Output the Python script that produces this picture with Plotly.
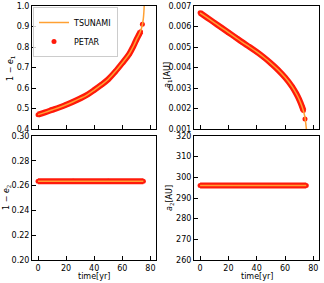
import plotly.graph_objects as go

# ---- data ----
tsunami_t = [0, 5, 10, 15, 20, 25, 30, 35, 40, 45, 50, 55, 60, 65, 68, 70, 72, 73, 74, 75, 75.6]
tsunami_e1 = [0.470, 0.481, 0.493, 0.505, 0.518, 0.533, 0.549, 0.567, 0.590, 0.615, 0.643, 0.680,
              0.722, 0.767, 0.805, 0.835, 0.862, 0.878, 0.900, 0.940, 1.000]
tsunami_a1_t = [0, 5, 10, 15, 20, 25, 30, 35, 40, 45, 50, 55, 60, 65, 68, 70, 72, 73, 74, 74.6, 75.1]
tsunami_a1 = [0.00667, 0.00643, 0.00619, 0.00595, 0.00571, 0.00547, 0.00523, 0.00500, 0.00476,
              0.00450, 0.00421, 0.00389, 0.00352, 0.00307, 0.00272, 0.00244, 0.00210, 0.00188,
              0.00160, 0.00130, 0.00100]

petar_t = [0, 5, 10, 15, 20, 25, 30, 35, 40, 45, 50, 55, 60, 65, 68, 70, 72, 73, 74.3]
petar_e1 = [0.470, 0.481, 0.493, 0.505, 0.518, 0.533, 0.549, 0.567, 0.590, 0.615, 0.643, 0.680,
            0.722, 0.767, 0.805, 0.835, 0.862, 0.875, 0.911]
petar_a1_t = [0, 5, 10, 15, 20, 25, 30, 35, 40, 45, 50, 55, 60, 65, 68, 70, 72, 73, 74.1]
petar_a1 = [0.00667, 0.00643, 0.00619, 0.00595, 0.00571, 0.00547, 0.00523, 0.00500, 0.00476,
            0.00450, 0.00421, 0.00389, 0.00352, 0.00307, 0.00272, 0.00244, 0.00210, 0.00190,
            0.00149]

outer_t = [0, 25, 50, 75]
outer_e2 = [0.2635, 0.2635, 0.2635, 0.2635]
outer_a2 = [296.0, 296.0, 296.0, 296.0]

xticks = [0, 20, 40, 60, 80]

RED = "#ff1a0a"
ORANGE = "#ffa033"
FONT = "DejaVu Sans"

fig = go.Figure()


def add_panel(xa, ya, tp, yp, tt, yt, first=False, isolated_last=False):
    n = len(tp) - 1 if isolated_last else len(tp)
    # PETAR dense band
    fig.add_trace(go.Scatter(x=tp[:n], y=yp[:n], mode="lines",
                             line=dict(color=RED, width=6, shape="spline"),
                             showlegend=False, hoverinfo="skip", xaxis=xa, yaxis=ya))
    fig.add_trace(go.Scatter(x=tp, y=yp, mode="markers", marker=dict(color=RED, size=5),
                             name="PETAR", showlegend=first, legendrank=2, xaxis=xa, yaxis=ya))
    fig.add_trace(go.Scatter(x=tt, y=yt, mode="lines",
                             line=dict(color=ORANGE, width=1.5, shape="spline"),
                             name="TSUNAMI", showlegend=first, legendrank=1, xaxis=xa, yaxis=ya))


add_panel("x", "y", petar_t, petar_e1, tsunami_t, tsunami_e1, first=True, isolated_last=True)
add_panel("x2", "y2", petar_a1_t, petar_a1, tsunami_a1_t, tsunami_a1, isolated_last=True)
add_panel("x3", "y3", outer_t, outer_e2, outer_t, outer_e2)
add_panel("x4", "y4", outer_t, outer_a2, outer_t, outer_a2)

W, H = 324, 283


def px(x):
    return x / W


def py(y):
    return (H - y) / H


xd1 = [px(32), px(156)]
xd2 = [px(194), px(319)]
yd_top = [py(129), py(6)]
yd_bot = [py(260), py(136)]

axcommon = dict(showline=True, linecolor="black", linewidth=1, mirror=True, ticks="inside",
                ticklen=4, tickcolor="black", showgrid=False, zeroline=False, automargin=False,
                tickfont=dict(family=FONT, size=8, color="black"))
xcommon = dict(axcommon, range=[-4.3, 84], tickvals=xticks)
tfont = dict(family=FONT, size=8, color="black")


def label(text, x, y, angle=0):
    return dict(text=text, x=px(x), y=py(y), xref="paper", yref="paper",
                xanchor="center", yanchor="middle", textangle=angle,
                showarrow=False, font=tfont)


fig.update_layout(
    width=W, height=H, margin=dict(l=0, r=0, t=0, b=0, autoexpand=False),
    paper_bgcolor="white", plot_bgcolor="white",
    font=dict(family=FONT, size=8, color="black"),
    xaxis=dict(xcommon, domain=xd1, anchor="y", showticklabels=False),
    yaxis=dict(axcommon, domain=yd_top, anchor="x", range=[0.4, 1.0],
               tickvals=[0.4, 0.5, 0.6, 0.7, 0.8, 0.9, 1.0], tickformat=".1f"),
    xaxis2=dict(xcommon, domain=xd2, anchor="y2", showticklabels=False),
    yaxis2=dict(axcommon, domain=yd_top, anchor="x2", range=[0.001, 0.007],
                tickvals=[0.001, 0.002, 0.003, 0.004, 0.005, 0.006, 0.007], tickformat=".3f"),
    xaxis3=dict(xcommon, domain=xd1, anchor="y3"),
    yaxis3=dict(axcommon, domain=yd_bot, anchor="x3", range=[0.20, 0.30],
                tickvals=[0.20, 0.22, 0.24, 0.26, 0.28, 0.30], tickformat=".2f"),
    xaxis4=dict(xcommon, domain=xd2, anchor="y4"),
    yaxis4=dict(axcommon, domain=yd_bot, anchor="x4", range=[260, 320],
                tickvals=[260, 270, 280, 290, 300, 310, 320]),
    legend=dict(x=px(33), y=py(7), xanchor="left", yanchor="top",
                bgcolor="rgba(255,255,255,0.8)", bordercolor="#cccccc", borderwidth=1,
                font=dict(family=FONT, size=8, color="black"), tracegroupgap=0,
                traceorder="normal", itemwidth=30),
    annotations=[
        label("1 − <i>e</i><sub>1</sub>", 11, 68, -90),
        label("<i>a</i><sub>1</sub>[AU]", 168, 75, -90),
        label("1 − <i>e</i><sub>2</sub>", 7, 198, -90),
        label("<i>a</i><sub>2</sub>[AU]", 170, 198, -90),
        label("time[yr]", 94, 276),
        label("time[yr]", 257, 276),
    ],
)

fig.write_html("out.html", config={"displayModeBar": False},
               post_script="document.body.style.margin='0px';")
